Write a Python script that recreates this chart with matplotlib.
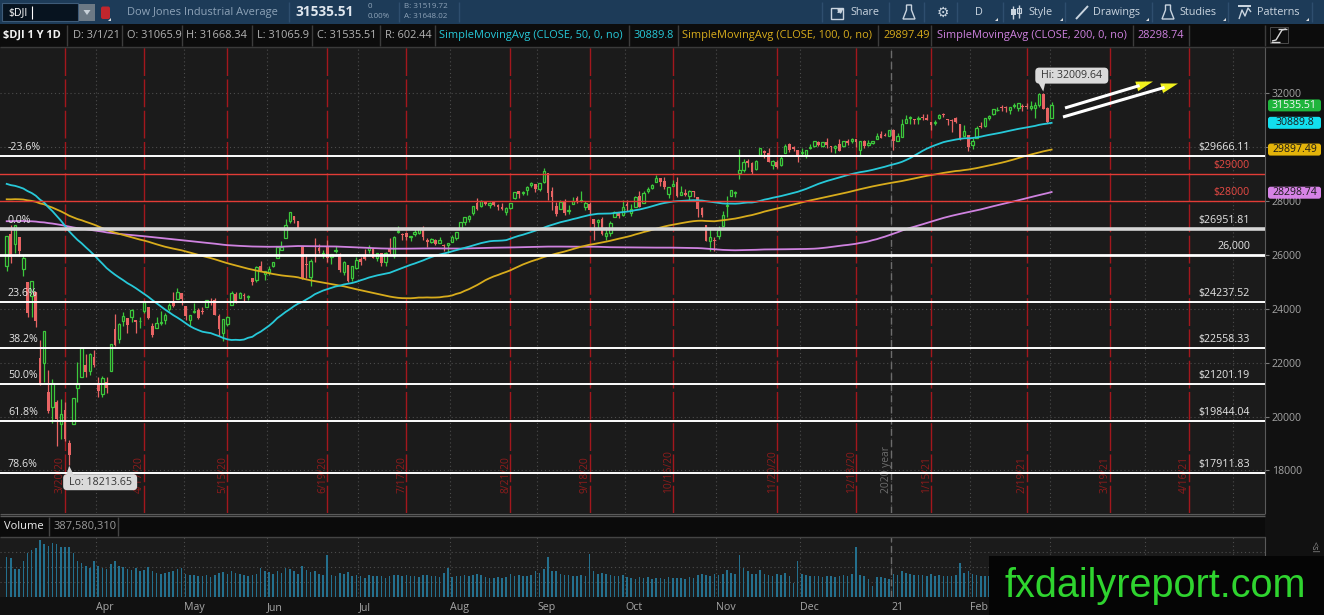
import numpy as np
import pandas as pd
import matplotlib
matplotlib.use('Agg')
import matplotlib.pyplot as plt
from matplotlib.patches import Rectangle, FancyBboxPatch, Polygon
from matplotlib.transforms import blended_transform_factory, offset_copy

plt.rcParams['font.family'] = ['Open Sans', 'DejaVu Sans']

# ---------------- data: $DJI daily bars 3/2/20 .. 3/1/21 ----------------
opens = [
    25591, 26763, 26383, 26672, 25458, 24992, 24454, 24605, 22184, 21973, 20917, 20353, 20529, 19720, 20253, 19029, 19722, 21050, 21469, 21898, 21678, 22208,
    21227, 20819, 21285, 21693, 23244, 22869, 23533, 23671, 23685, 23591, 23526, 23930, 24049, 23355, 23289, 23481, 23571, 23987, 24283, 24345, 24570,
    24095, 23568, 23880, 23963, 23878, 24079, 24223, 24312, 23716, 23113, 23437, 24134, 24535, 24410, 24519, 24423, 25120, 25075, 25598, 25291,
    25342, 25589, 25882, 26191, 26631, 27232, 27447, 27252, 26282, 25659, 25160, 26308, 26252, 26016, 26286, 25925, 26153, 26041, 25365, 25632, 25130, 25516,
    25851, 25936, 26170, 26215, 25884, 26070, 25745, 26208, 25945, 26834, 26751, 26806, 26643, 26759, 26816, 26971, 26560, 26465, 26557, 26417, 26360, 26365,
    26454, 26625, 26938, 27214, 27323, 27555, 27907, 27809, 27956, 27832, 27954, 27842, 27762, 27593, 27725, 28120, 28345, 28285, 28392, 28568, 28614,
    28439, 28707, 29036, 28347, 27819, 27692, 28004, 27638, 27897, 28100, 28000, 27777, 27886, 27306, 27219, 27336, 26679, 26810, 27408, 27551, 27483,
    27887, 27536, 27761, 28171, 27911, 28364, 28459, 28711, 28860, 28731, 28259, 28558, 28698, 28224, 28288, 28172, 28375, 28150, 27745, 27086, 26526, 26503,
    26691, 27063, 27810, 28162, 28282, 29016, 29154, 29460, 29401, 29185, 29701, 29851, 29781, 29317, 29447, 29321, 29782, 30114, 29977, 29887,
    29777, 29708, 29965, 30039, 30194, 30021, 30192, 30008, 29964, 30108, 30040, 30223, 30224, 30285, 29871, 30220, 30070, 30155, 30283, 30492, 30415, 30417,
    30628, 30205, 30361, 30865, 31069, 31016, 31016, 31087, 31085, 30926, 30887, 31056, 31201, 31024, 30990, 31050, 30833, 30398, 30432,
    30055, 30343, 30778, 30784, 31068, 31210, 31352, 31482, 31468, 31369, 31510, 31435, 31494, 31521, 31438, 31455, 31561, 31966, 31433,
    31066]
highs = [
    26706, 27084, 27091, 26672, 25995, 24992, 25020, 24605, 22837, 23186, 21738, 21395, 20606, 20638, 20531, 19122, 20705, 22020, 22596, 22327, 22361, 22471,
    21459, 21487, 21447, 22680, 23784, 23475, 23866, 23671, 23981, 23591, 23699, 24264, 24076, 23450, 23705, 23930, 23823, 24200, 24599, 24764, 24570,
    24095, 23761, 24219, 24039, 24071, 24335, 24384, 24405, 23818, 23625, 23710, 24662, 24600, 24630, 24584, 24497, 25127, 25567, 25776, 25414,
    25587, 25743, 26287, 26506, 27339, 27581, 27447, 27254, 26282, 26019, 25852, 26611, 26399, 26181, 26529, 26032, 26336, 26073, 25768, 25632, 25596, 25904,
    25921, 26205, 26357, 26244, 26067, 26071, 26090, 26632, 26683, 27061, 26791, 26838, 26708, 27005, 27006, 27050, 26617, 26635, 26598, 26660, 26403, 26446,
    26749, 26828, 27206, 27391, 27476, 27792, 28099, 28037, 28005, 27958, 27984, 27897, 27913, 27756, 27931, 28309, 28345, 28349, 28563, 28682, 28614,
    28659, 29200, 29039, 28502, 27959, 28035, 28048, 27835, 28135, 28182, 28365, 27997, 27965, 27306, 27324, 27386, 27036, 27232, 27637, 27577, 28017,
    28041, 27877, 28163, 28355, 28346, 28499, 28604, 28956, 28860, 28863, 28518, 28776, 28888, 28549, 28419, 28410, 28375, 28150, 27751, 27086, 26946, 26645,
    27077, 27602, 28176, 28404, 28346, 29934, 29561, 29543, 29424, 29517, 29964, 29887, 29945, 29502, 29504, 29684, 30116, 30134, 30015, 29887,
    29958, 29888, 30098, 30219, 30230, 30196, 30319, 30034, 30053, 30289, 30210, 30282, 30324, 30285, 30224, 30246, 30259, 30226, 30526, 30600, 30525, 30637,
    30675, 30504, 31023, 31193, 31140, 31047, 31155, 31200, 31223, 30931, 31010, 31216, 31256, 31038, 31024, 31111, 30833, 30796, 30432,
    30322, 30790, 30917, 31062, 31188, 31391, 31486, 31546, 31518, 31475, 31643, 31624, 31573, 31628, 31688, 31671, 31981, 32010, 31488,
    31668]
lows = [
    25391, 25706, 26077, 25944, 25226, 23707, 23690, 23328, 21154, 21286, 20116, 19768, 18917, 19177, 19095, 18214, 19722, 20538, 21469, 21469, 21522, 21852,
    20736, 20735, 20863, 21693, 22632, 22720, 23338, 23092, 23509, 23082, 23297, 23821, 23630, 22941, 23289, 23382, 23434, 23917, 24052, 24345, 24130,
    23581, 23361, 23842, 23633, 23800, 24079, 24118, 23764, 23002, 22790, 23361, 24134, 24195, 24410, 24238, 24322, 24893, 24975, 25386, 25069,
    25258, 25538, 25882, 26179, 26631, 27169, 27180, 26959, 25082, 25126, 24843, 25734, 26079, 25889, 25738, 25654, 26053, 25346, 25245, 24991, 25020, 25466,
    25633, 25808, 26055, 25882, 25782, 25564, 25585, 26040, 25888, 26810, 26552, 26563, 26499, 26701, 26778, 26562, 26285, 26418, 26370, 26417, 26128, 26077,
    26454, 26553, 26938, 27115, 27215, 27481, 27653, 27759, 27835, 27750, 27799, 27654, 27653, 27468, 27688, 28061, 28110, 28206, 28231, 28528, 28334,
    28379, 28646, 28024, 27665, 27427, 27692, 27464, 27517, 27866, 27899, 27951, 27657, 27493, 26537, 26980, 26743, 26537, 26698, 27408, 27378, 27442,
    27612, 27420, 27761, 27761, 27911, 28306, 28429, 28701, 28546, 28450, 28111, 28551, 28126, 28224, 28176, 28003, 28128, 27415, 27416, 26504, 26144, 26143,
    26571, 27063, 27410, 28162, 28133, 28819, 29080, 29243, 28989, 29156, 29701, 29588, 29439, 29166, 29213, 29294, 29782, 29822, 29859, 29439,
    29671, 29602, 29903, 30010, 30036, 29982, 29968, 29797, 29779, 29862, 30002, 30058, 30153, 29978, 29699, 29954, 30016, 30111, 30283, 30313, 30388, 30393,
    29881, 30205, 30361, 30865, 30846, 30855, 30828, 31001, 30979, 30612, 30808, 31021, 31096, 30826, 30542, 30868, 30246, 30398, 29856,
    29936, 30343, 30692, 30742, 30991, 31188, 31336, 31311, 31285, 31234, 31425, 31334, 31315, 31387, 31380, 31066, 31474, 31389, 30881,
    31066]
closes = [
    26703, 25917, 27091, 26121, 25865, 23851, 25018, 23553, 21201, 23186, 20189, 21237, 19899, 20087, 19174, 18592, 20705, 21201, 22552, 21637, 22327, 21917,
    20944, 21413, 21053, 22680, 22654, 23434, 23719, 23391, 23950, 23504, 23538, 24242, 23650, 23019, 23476, 23515, 23775, 24134, 24102, 24634, 24346,
    23724, 23750, 23883, 23665, 23876, 24331, 24222, 23765, 23248, 23625, 23685, 24597, 24207, 24576, 24474, 24465, 24995, 25548, 25401, 25383,
    25475, 25743, 26270, 26282, 27111, 27572, 27272, 26990, 25128, 25606, 25763, 26290, 26120, 26080, 25871, 26025, 26156, 25446, 25746, 25016, 25596, 25813,
    25735, 25827, 26287, 25890, 26067, 25706, 26075, 26086, 26643, 26870, 26735, 26672, 26681, 26840, 27006, 26652, 26470, 26585, 26379, 26540, 26314, 26428,
    26664, 26828, 27202, 27387, 27433, 27791, 27687, 27977, 27897, 27931, 27845, 27778, 27693, 27740, 27930, 28308, 28248, 28332, 28492, 28654, 28430,
    28646, 29101, 28293, 28133, 27501, 27940, 27535, 27666, 27993, 27996, 28032, 27902, 27657, 27148, 27288, 26763, 26815, 27174, 27584, 27453, 27782,
    27817, 27683, 28149, 27773, 28303, 28426, 28587, 28838, 28680, 28514, 28494, 28606, 28195, 28309, 28211, 28364, 28336, 27685, 27463, 26520, 26659, 26502,
    26925, 27480, 27848, 28390, 28323, 29158, 29421, 29398, 29080, 29480, 29950, 29783, 29438, 29483, 29263, 29591, 30046, 29872, 29910, 29639,
    29824, 29884, 29970, 30218, 30070, 30174, 30069, 29999, 30046, 29862, 30199, 30155, 30303, 30179, 30216, 30016, 30130, 30200, 30404, 30336, 30410, 30606,
    30224, 30392, 30829, 31041, 31098, 31009, 31069, 31060, 30992, 30814, 30931, 31188, 31176, 30997, 30960, 30937, 30303, 30603, 29983,
    30212, 30687, 30724, 31056, 31148, 31386, 31376, 31438, 31431, 31458, 31523, 31613, 31493, 31494, 31522, 31537, 31962, 31402, 30932,
    31536]
# volume, millions of shares
volumes = [
    725, 707, 507, 507, 652, 797, 851, 888, 1032, 960, 924, 978, 960, 906, 906, 906, 797, 652, 616, 562, 525, 652,
    560, 520, 500, 600, 640, 560, 540, 500, 480, 520, 460, 480, 540, 470, 440, 420, 430, 450, 470, 500, 530,
    420, 400, 390, 380, 380, 400, 360, 400, 440, 450, 410, 470, 430, 420, 400, 380, 390, 420, 520, 470,
    450, 420, 460, 440, 520, 500, 460, 420, 560, 480, 450, 470, 420, 400, 760, 400, 380, 430, 420, 450, 380, 400,
    380, 350, 400, 380, 370, 380, 350, 380, 400, 390, 380, 400, 380, 370, 360, 400, 390, 380, 370, 360, 440, 520,
    360, 370, 380, 390, 370, 400, 420, 390, 360, 350, 340, 360, 350, 360, 420, 380, 390, 370, 380, 400, 460,
    440, 500, 720, 470, 460, 420, 400, 390, 380, 380, 400, 380, 780, 460, 420, 430, 410, 400, 380, 370, 400,
    360, 340, 330, 360, 340, 360, 330, 350, 340, 330, 360, 340, 350, 340, 330, 360, 350, 400, 420, 400, 380, 420,
    400, 420, 480, 440, 420, 760, 520, 460, 420, 420, 480, 420, 400, 380, 420, 400, 440, 380, 260, 640,
    420, 400, 380, 380, 380, 360, 380, 370, 360, 380, 400, 380, 420, 900, 400, 380, 320, 200, 360, 360, 340, 330,
    420, 400, 460, 430, 410, 400, 390, 400, 380, 420, 380, 390, 380, 370, 380, 400, 620, 430, 470,
    420, 400, 380, 380, 370, 390, 370, 380, 360, 350, 400, 380, 360, 480, 400, 420, 440, 480, 420,
    388]
# closes of the 199 sessions before 3/2/20 (5/16/19 .. 2/28/20), feed the moving averages
pre_closes = [
    25863, 25764, 25680, 25877, 25776, 25490, 25586, 25347, 25126, 25169, 24815,
    24820, 25332, 25540, 25720, 25984, 26062, 26048, 26004, 26107, 26090, 26112, 26466, 26504, 26753, 26720, 26728, 26548, 26537, 26526, 26600,
    26718, 26787, 26966, 26922, 26806, 26784, 26860, 27088, 27332, 27359, 27336, 27219, 27223, 27154, 27172, 27349, 27270, 27141, 27192, 27221, 27198, 26864,
    26583, 26485, 25718, 26030, 26008, 26378, 26287, 25897, 26280, 25480, 25579, 25886, 26136, 25962, 26202, 26252, 25629, 25899, 25778, 26036, 26363, 26403,
    26118, 26356, 26728, 26797, 26835, 26909, 27137, 27182, 27220, 27076, 27111, 27147, 27095, 26935, 26949, 26808, 26971, 26891, 26820, 26917,
    26573, 26078, 26201, 26573, 26478, 26164, 26347, 26497, 26817, 26787, 27025, 27002, 27026, 26770, 26827, 26789, 26834, 26806, 26958, 27091, 27071, 27186, 27046,
    27347, 27462, 27492, 27493, 27675, 27681, 27691, 27691, 27784, 27782, 28005, 28036, 27934, 27821, 27766, 27876, 28066, 28122, 28164, 28051,
    27783, 27503, 27650, 27678, 28015, 27910, 27881, 27912, 28133, 28135, 28236, 28268, 28240, 28377, 28455, 28551, 28516, 28622, 28645, 28462, 28538,
    28869, 28634, 28703, 28584, 28745, 28957, 28824, 28908, 28940, 29030, 29298, 29348, 29196, 29186, 29160, 28990, 28536, 28723, 28734, 28860, 28256,
    28400, 28808, 29291, 29380, 29103, 29277, 29276, 29551, 29424, 29398, 29232, 29348, 29219, 28992, 27961, 26957, 26891, 25767, 25409]

fib_levels = [29666.11, 26951.81, 26000, 24237.52, 22558.33, 21201.19, 19844.04, 17911.83]
fib_pct = ['-23.6%', '0.0%', '', '23.6%', '38.2%', '50.0%', '61.8%', '78.6%']
fib_tags = ['$29666.11', '$26951.81', '26,000', '$24237.52', '$22558.33', '$21201.19', '$19844.04', '$17911.83']
red_levels = [29000, 28000]
red_tags = ['$29000', '$28000']
opex_dates = ['2020-03-20', '2020-04-17', '2020-05-15', '2020-06-19', '2020-07-17', '2020-08-21', '2020-09-18',
              '2020-10-16', '2020-11-20', '2020-12-18', '2021-01-15', '2021-02-19', '2021-03-19', '2021-04-16']
opex_labels = ['3/20/20', '4/17/20', '5/15/20', '6/19/20', '7/17/20', '8/21/20', '9/18/20',
               '10/16/20', '11/20/20', '12/18/20', '1/15/21', '2/19/21', '3/19/21', '4/16/21']
month_starts = pd.date_range('2020-04-01', '2021-05-01', freq='MS')
# the last three sit under the watermark box
month_labels = ['Apr', 'May', 'Jun', 'Jul', 'Aug', 'Sep', 'Oct', 'Nov', 'Dec', '21', 'Feb', '', '', '']
price_ticks = [18000, 20000, 22000, 24000, 26000, 28000, 30000, 32000]
# 30000 is hidden behind the SMA100 tag
price_tick_labels = ['18000', '20000', '22000', '24000', '26000', '28000', '', '32000']
nyse_holidays = ['2020-04-10', '2020-05-25', '2020-07-03', '2020-09-07', '2020-11-26', '2020-12-25',
                 '2021-01-01', '2021-01-18', '2021-02-15', '2021-04-02', '2021-05-31']

# ---------------- colours ----------------
BG = '#1b1b1b'
GREEN = '#3cc83c'
RED = '#e86464'
CYAN = '#27c9d9'
GOLD = '#d8ac1c'
VIOLET = '#cf82e0'
GRID = '#4c4c4c'

cal = pd.bdate_range('2020-03-02', '2021-06-30', freq='C', holidays=nyse_holidays)
def bar_of(d):
    return int(cal.searchsorted(pd.Timestamp(d)))

o, h, l, c = (np.array(v, dtype=float) for v in (opens, highs, lows, closes))
idx = np.arange(len(c))
allc = pd.Series(pre_closes + closes, dtype=float)
n0 = len(pre_closes)
sma50 = allc.rolling(50).mean().values[n0:]
sma100 = allc.rolling(100).mean().values[n0:]
sma200 = allc.rolling(200).mean().values[n0:]

W, H = 1324, 615
def fy(y):
    return 1 - y / H

fig = plt.figure(figsize=(W / 100, H / 100), dpi=100, facecolor='#111111')
ax = fig.add_axes([0, fy(513), 1265 / W, (513 - 47) / H], facecolor=BG)
axv = fig.add_axes([0, fy(597), 1265 / W, (597 - 537) / H], facecolor=BG)
xlim = (-6.7 / 4.163, (1265 - 6.7) / 4.163)

# ---------------- price pane ----------------
ax.set_xlim(*xlim)
ax.set_ylim(16423, 33701)
month_idx = [bar_of(m) - 0.5 for m in month_starts]
for m in month_idx:
    ax.axvline(m, color=GRID, lw=0.8, ls=(0, (1, 2.5)), zorder=1)
for p in price_ticks:
    ax.axhline(p, color=GRID, lw=0.8, ls=(0, (1, 2.5)), zorder=1)

year_idx = bar_of('2021-01-01') - 0.5
ax.axvline(year_idx, color='#6c6c6c', lw=1, dashes=(5, 3), zorder=1)
lbl_y = 26000 - (493 - 254.7) / 0.02697
shift = offset_copy(ax.transData, fig=fig, x=1, y=0, units='dots')
ax.text(year_idx, lbl_y, '2020 year', rotation=90, ha='right', va='bottom', color='#6e6e6e',
        fontsize=7.4, transform=shift, zorder=2)
for d, s in zip(opex_dates, opex_labels):
    i = bar_of(d)
    ax.axvline(i, color='#a3171d', lw=1, dashes=(20, 2.5), zorder=1)
    ax.text(i, lbl_y, s, rotation=90, ha='right', va='bottom', color='#8e1c1c', fontsize=7.4,
            transform=shift, zorder=2)

up = c >= o
ax.vlines(idx[up], l[up], h[up], color=GREEN, lw=0.9, zorder=3)
ax.vlines(idx[~up], l[~up], h[~up], color=RED, lw=0.9, zorder=3)
body_lo = np.minimum(o, c)
body_h = np.maximum(np.abs(c - o), 28)
ax.bar(idx[up], body_h[up], bottom=body_lo[up], width=0.58, facecolor=BG, edgecolor=GREEN, lw=0.9, zorder=4)
ax.bar(idx[~up], body_h[~up], bottom=body_lo[~up], width=0.66, color=RED, lw=0, zorder=4)

ax.plot(idx, sma200, color=VIOLET, lw=1.3, zorder=4)
ax.plot(idx, sma100, color=GOLD, lw=1.3, zorder=4)
ax.plot(idx, sma50, color=CYAN, lw=1.3, zorder=4)

right_t = offset_copy(blended_transform_factory(ax.transAxes, ax.transData), fig=fig, x=0, y=3, units='dots')
for lev, pct, tag in zip(fib_levels, fib_pct, fib_tags):
    if lev == 26951.81:
        ax.axhline(lev, color='#d6d6d6', lw=2.6, zorder=5)
    elif lev == 26000:
        ax.axhline(lev, color='white', lw=2.0, zorder=5)
    else:
        ax.axhline(lev, color='white', lw=1.4, zorder=5)
    ax.text(1250 / 1265, lev, tag, ha='right', va='bottom', color='#e6e6e6', fontsize=7.7, transform=right_t, zorder=6)
    if pct:
        ax.text(8 / 1265, lev, pct, ha='left', va='bottom', color='#e6e6e6', fontsize=7.7, transform=right_t, zorder=6)
for lev, tag in zip(red_levels, red_tags):
    ax.axhline(lev, color='#e23c36', lw=1.0, zorder=5)
    ax.text(1250 / 1265, lev, tag, ha='right', va='bottom', color='#e84a44', fontsize=7.7, transform=right_t, zorder=6)

ax.yaxis.tick_right()
ax.set_yticks(price_ticks)
ax.set_yticklabels(price_tick_labels)
ax.tick_params(axis='y', colors='#7a7a7a', labelcolor='#a4a4a4', labelsize=7.6, length=3, width=0.8, pad=2)
ax.set_xticks([])
for side in ('top', 'left', 'bottom'):
    ax.spines[side].set_visible(False)
ax.spines['right'].set_color('#5a5a5a')

# ---------------- volume pane ----------------
axv.set_xlim(*xlim)
axv.set_ylim(0, 1080)
for m in month_idx:
    axv.axvline(m, color=GRID, lw=0.8, ls=(0, (1, 2.5)), zorder=1)
for v in (270, 540, 810):
    axv.axhline(v, color=GRID, lw=0.8, ls=(0, (1, 2.5)), zorder=1)
axv.axvline(year_idx, color='#6c6c6c', lw=1, dashes=(5, 3), zorder=1)
axv.bar(idx, volumes, width=0.38, color='#24708e', zorder=3)
axv.set_yticks([])
axv.set_xticks(month_idx)
axv.set_xticklabels(month_labels, ha='left')
axv.tick_params(axis='x', length=0, pad=3.5, labelsize=7.7, labelcolor='#a6a6a6')
for side in ('top', 'left', 'bottom'):
    axv.spines[side].set_visible(False)
axv.spines['right'].set_color('#5a5a5a')

# ---------------- screen furniture (pixel coordinates) ----------------
ui = fig.add_axes([0, 0, 1, 1], zorder=10)
ui.set_xlim(0, W)
ui.set_ylim(H, 0)
ui.axis('off')

def px(i):
    return ax.transData.transform((i, 0))[0]
def py(p):
    return H - ax.transData.transform((0, p))[1]
def box(x0, y0, x1, y1, fc, ec='none', lw=0):
    ui.add_patch(Rectangle((x0, y0), x1 - x0, y1 - y0, facecolor=fc, edgecolor=ec, lw=lw))
def seg(xs, ys, col, lw=1):
    ui.plot(xs, ys, color=col, lw=lw, solid_capstyle='butt')
def tri(pts, col):
    ui.add_patch(Polygon(pts, closed=True, facecolor=col, edgecolor='none'))

# toolbar
TB = '#1d3b58'
SEP = '#2e4e6e'
TXT = '#c9d4df'
box(0, 0, W, 24, TB)
box(2, 3, 78, 21, '#07131f', ec='#3e5b78', lw=0.8)
ui.text(8, 12.5, '$DJI', color='white', fontsize=7.6, va='center')
seg([31.5, 31.5], [6, 19], 'white', 0.8)
box(79, 4, 95, 21, '#6c7985')
tri([(83.5, 10), (90.5, 10), (87, 15)], '#c8d0d8')
ui.add_patch(FancyBboxPatch((101, 6.5), 9, 12.5, boxstyle='round,pad=0,rounding_size=2', facecolor='#c0262d', edgecolor='none'))
tri([(108, 21), (111, 21), (111, 18)], '#dddddd')
ui.text(127, 12.5, 'Dow Jones Industrial Average', color='#8ea3b8', fontsize=7.9, va='center')
for x in (289, 399, 459):
    seg([x, x], [2, 22], SEP)
ui.text(295, 12.5, '31535.51', color='#dfe6ee', fontsize=9.8, fontweight='bold', va='center')
ui.text(368, 7, '0', color='#8ea3b8', fontsize=5.8, va='center')
ui.text(368, 17, '0.00%', color='#8ea3b8', fontsize=5.8, va='center')
ui.text(404, 7, 'B: 31519.72', color='#8ea3b8', fontsize=5.8, va='center')
ui.text(404, 17, 'A: 31648.02', color='#8ea3b8', fontsize=5.8, va='center')
for x in (822, 889, 924, 957, 1003, 1065, 1152, 1228, 1312):
    seg([x, x], [2, 22], SEP)
box(831, 8, 843, 19, 'none', ec=TXT, lw=1)
ui.annotate('', xy=(846, 6), xytext=(836, 14), arrowprops=dict(arrowstyle='-|>', color=TXT, lw=1.2, mutation_scale=7))
ui.text(850, 12.5, 'Share', color=TXT, fontsize=7.8, va='center')
for fxl in (903, 1162):
    ui.add_patch(Polygon([(fxl + 3.5, 5), (fxl + 8.5, 5), (fxl + 8.5, 10), (fxl + 12, 19), (fxl, 19), (fxl + 3.5, 10)],
                         closed=True, facecolor='none', edgecolor=TXT, lw=1))
ui.text(942.5, 12.5, '\u2699', color=TXT, fontsize=10, ha='center', va='center', family='DejaVu Sans')
ui.text(978.5, 12.5, 'D', color=TXT, fontsize=7.8, ha='center', va='center')
seg([1013, 1013], [6, 19], TXT, 1)
box(1010.5, 9, 1015.5, 15, TXT)
seg([1019, 1019], [5, 18], TXT, 1)
box(1017, 8, 1021, 13, 'none', ec=TXT, lw=0.8)
ui.text(1028, 12.5, 'Style', color=TXT, fontsize=7.8, va='center')
seg([1076, 1088], [19, 6], TXT, 1.4)
ui.text(1093, 12.5, 'Drawings', color=TXT, fontsize=7.8, va='center')
ui.text(1179, 12.5, 'Studies', color=TXT, fontsize=7.8, va='center')
box(1238, 5, 1251, 7, TXT)
seg([1239, 1242, 1245, 1248, 1251], [19, 10, 16, 8, 12], TXT, 1)
ui.text(1257, 12.5, 'Patterns', color=TXT, fontsize=7.8, va='center')
for x in (995, 1060, 1146, 1223, 1306):
    tri([(x, 21), (x + 3, 21), (x + 3, 18)], '#dddddd')

# header row with study values
box(0, 24, W, 46.5, '#0c0c0c')
seg([0, W], [46.5, 46.5], '#3a3a3a')
GREY = '#b4b4b4'
head = [(3, '$DJI 1 Y 1D', '#f2f2f2', 'bold'), (73, 'D: 3/1/21', GREY, 'normal'), (127, 'O: 31065.9', GREY, 'normal'),
        (186, 'H: 31668.34', GREY, 'normal'), (257, 'L: 31065.9', GREY, 'normal'), (317, 'C: 31535.51', GREY, 'normal'),
        (385, 'R: 602.44', GREY, 'normal'), (439, 'SimpleMovingAvg (CLOSE, 50, 0, no)', CYAN, 'normal'),
        (633, '30889.8', CYAN, 'normal'), (682, 'SimpleMovingAvg (CLOSE, 100, 0, no)', GOLD, 'normal'),
        (884, '29897.49', GOLD, 'normal'), (937, 'SimpleMovingAvg (CLOSE, 200, 0, no)', VIOLET, 'normal'),
        (1138, '28298.74', VIOLET, 'normal')]
for x, s, col, wt in head:
    ui.text(x, 35.5, s, color=col, fontsize=7.9, fontweight=wt, va='center')
for x in (67, 122, 181.5, 252, 312, 380, 435, 629, 678, 878, 931, 1133, 1189, 1265):
    seg([x, x], [25, 46], '#3c3c3c')
box(1270, 27, 1288, 43, 'none', ec='#555555', lw=0.6)
seg([1278, 1287], [29, 29], '#d8d8d8', 1)
seg([1272, 1276, 1279, 1282, 1286], [41, 40, 35, 30, 29], '#d8d8d8', 1)
seg([1271, 1280], [41.5, 41.5], '#d8d8d8', 1)

# volume header row
seg([0, 1265], [513.5, 513.5], '#5a5a5a')
box(0, 516, 1265, 537, '#0b0b0b')
seg([0, 1265], [516, 516], '#5a5a5a')
seg([0, 1265], [537, 537], '#444444')
for x in (49, 118):
    seg([x, x], [517, 536], '#444444')
ui.text(4, 526.5, 'Volume', color='#eeeeee', fontsize=8, va='center')
ui.text(54, 526.5, '387,580,310', color='#9a9a9a', fontsize=8, va='center')

# price tags on the right axis
for val, txt, fc, tc in [(31535.51, '31535.51', '#1fb53c', '#f4f4f4'), (30889.8, '30889.8', '#12dfee', '#1a1a1a'),
                         (29897.49, '29897.49', '#e4b40a', '#1a1a1a'), (28298.74, '28298.74', '#d683e6', '#1a1a1a')]:
    yy = py(val)
    ui.add_patch(FancyBboxPatch((1268, yy - 6), 53, 12, boxstyle='round,pad=0,rounding_size=2.5', facecolor=fc, edgecolor='none'))
    ui.text(1294.5, yy, txt, color=tc, fontsize=7.6, ha='center', va='center')

# hi / lo bubbles
hi_i = int(np.argmax(h))
lo_i = int(np.argmin(l))
hx, hy = px(hi_i), py(h[hi_i])
ui.add_patch(FancyBboxPatch((hx - 8, hy - 25), 73, 16, boxstyle='round,pad=0,rounding_size=4', facecolor='#dadada', edgecolor='none'))
tri([(hx - 5, hy - 10), (hx + 2, hy - 10), (hx, hy - 1)], '#dadada')
ui.text(hx + 28.5, hy - 17, 'Hi: 32009.64', color='#353535', fontsize=7.7, ha='center', va='center')
lx, ly = px(lo_i), py(l[lo_i])
ui.add_patch(FancyBboxPatch((lx - 6, ly + 9.5), 74, 16, boxstyle='round,pad=0,rounding_size=4', facecolor='#dadada', edgecolor='none'))
tri([(lx - 3, ly + 11), (lx + 5, ly + 11), (lx, ly + 1)], '#dadada')
ui.text(lx + 31, ly + 17.5, 'Lo: 18213.65', color='#353535', fontsize=7.7, ha='center', va='center')

# hand-drawn trend arrows
for (x0, y0), (x1, y1) in [((1065, 108), (1153, 81.5)), ((1063, 117), (1178, 83.5))]:
    d = np.array([x1 - x0, y1 - y0])
    d = d / np.hypot(*d)
    nrm = np.array([-d[1], d[0]])
    base = np.array([x1, y1]) - 17 * d
    seg([x0, base[0] + 3 * d[0]], [y0, base[1] + 3 * d[1]], 'white', 2.2)
    tri([(x1, y1), tuple(base + 5 * nrm), tuple(base - 5 * nrm)], '#f2f21e')

# watermark
box(989, 556, W, H, '#050505')
ui.text(1155, 586, 'fxdailyreport.com', color='#2fd42f', fontsize=28.5, ha='center', va='center',
        family=['Liberation Sans', 'DejaVu Sans'])
ui.text(1314, 547, '<sl', color='#8a8a8a', fontsize=6.5, rotation=-90, ha='center', va='center')

fig.savefig('out.png', dpi=100, facecolor=fig.get_facecolor())
